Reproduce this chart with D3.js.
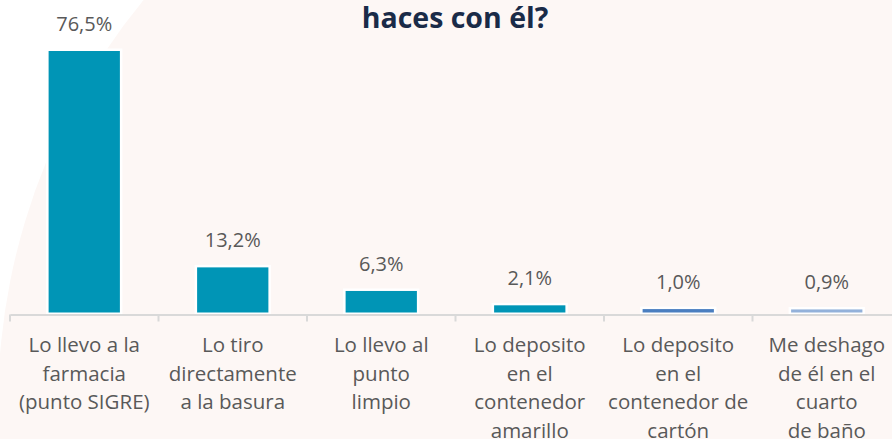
<!DOCTYPE html>
<html>
<head>
<meta charset="utf-8">
<script src="https://cdn.jsdelivr.net/npm/d3@7"></script>
<style>
  html, body { margin: 0; padding: 0; background: #ffffff; overflow: hidden; }
  svg { display: block; }
</style>
</head>
<body>
<svg id="chart" width="892" height="439"></svg>
<script>
// Survey answers: what people do with a medicine they no longer need
const categories = [
  ["Lo llevo a la", "farmacia", "(punto SIGRE)"],
  ["Lo tiro", "directamente", "a la basura"],
  ["Lo llevo al", "punto", "limpio"],
  ["Lo deposito", "en el", "contenedor", "amarillo"],
  ["Lo deposito", "en el", "contenedor de", "cartón"],
  ["Me deshago", "de él en el", "cuarto", "de baño"]
];
const values = [76.5, 13.2, 6.3, 2.1, 1.0, 0.9];
const valueLabels = ["76,5%", "13,2%", "6,3%", "2,1%", "1,0%", "0,9%"];
const barColors = ["#0095B6", "#0095B6", "#0095B6", "#0095B6", "#4A7EC0", "#93B1DA"];
const titleText = "haces con él?";

const W = 892, H = 439;
const svg = d3.select("#chart");
const font = "'Open Sans', 'Noto Sans', sans-serif";

// Decorative pale background disc
svg.append("circle")
  .attr("cx", 634).attr("cy", 405).attr("r", 636)
  .attr("fill", "#FDF7F5");

const keys = categories.map(c => c.join(" "));
const x = d3.scaleBand().domain(keys).range([10, 901]).padding(0);
const baseY = 312.5;
const y = d3.scaleLinear().domain([0, 76.5]).range([baseY, 51]);
const barW = x.bandwidth() * 0.48;

// Title (second line of a wrapped heading)
svg.append("text")
  .attr("x", 455).attr("y", 28)
  .attr("text-anchor", "middle")
  .attr("font-family", font)
  .attr("font-weight", 700)
  .attr("font-size", 28.5)
  .attr("fill", "#1A2B48")
  .text(titleText);

// Bars with a white outline
svg.append("g").selectAll("rect")
  .data(values)
  .join("rect")
  .attr("x", (d, i) => x(keys[i]) + (x.bandwidth() - barW) / 2)
  .attr("y", d => y(d))
  .attr("width", barW)
  .attr("height", d => baseY - y(d))
  .attr("fill", (d, i) => barColors[i])
  .attr("stroke", "#ffffff")
  .attr("stroke-width", 5)
  .style("paint-order", "stroke");

// Value labels
svg.append("g").selectAll("text")
  .data(values)
  .join("text")
  .attr("x", (d, i) => x(keys[i]) + x.bandwidth() / 2)
  .attr("y", d => y(d) - 20)
  .attr("text-anchor", "middle")
  .attr("font-family", font)
  .attr("font-size", 20)
  .attr("fill", "#595959")
  .text((d, i) => valueLabels[i]);

// Category axis
const axis = svg.append("g")
  .attr("transform", `translate(0,${baseY + 2})`)
  .call(d3.axisBottom(x).tickSize(0).tickFormat(""));
axis.select(".domain").attr("stroke", "#D9D9D9").attr("stroke-width", 2);

// Category separators
svg.append("g").selectAll("line")
  .data(keys)
  .join("line")
  .attr("x1", d => x(d)).attr("x2", d => x(d))
  .attr("y1", baseY + 2).attr("y2", baseY + 9)
  .attr("stroke", "#D9D9D9").attr("stroke-width", 2);

// Wrapped category labels
const lab = svg.append("g").selectAll("text")
  .data(categories)
  .join("text")
  .attr("text-anchor", "middle")
  .attr("font-family", font)
  .attr("font-size", 20.5)
  .attr("fill", "#595959");
lab.each(function(lines, i) {
  const cx = x(keys[i]) + x.bandwidth() / 2;
  d3.select(this).selectAll("tspan")
    .data(lines)
    .join("tspan")
    .attr("x", cx)
    .attr("y", (t, j) => 352 + j * 28.6)
    .text(t => t);
});
</script>
</body>
</html>
